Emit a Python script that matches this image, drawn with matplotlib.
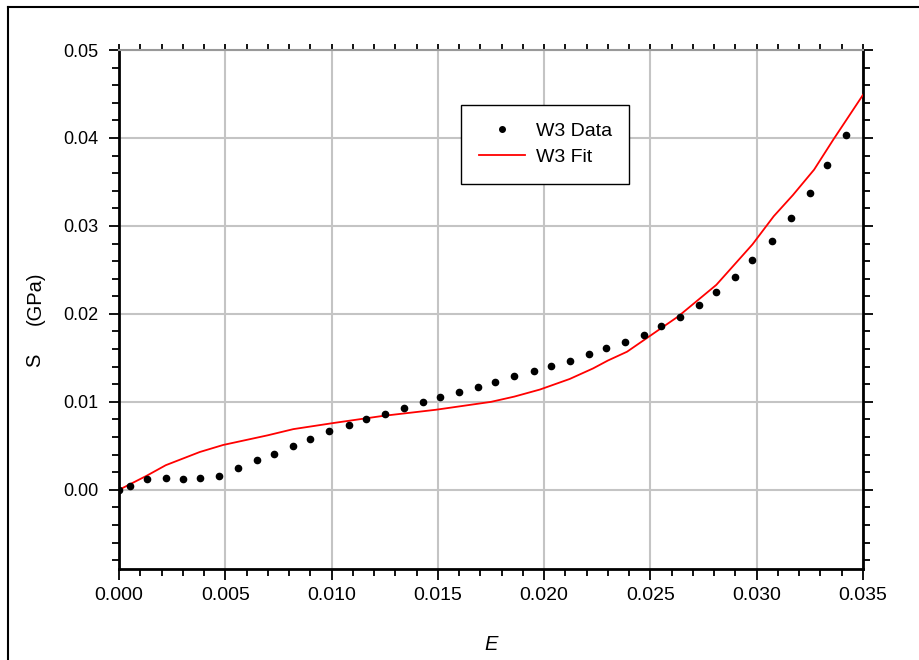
import matplotlib
matplotlib.use("Agg")
import matplotlib.pyplot as plt
from matplotlib.ticker import MultipleLocator, FormatStrFormatter
from matplotlib.lines import Line2D

plt.rcParams['font.family'] = ['Liberation Sans', 'DejaVu Sans']

# W3 data points (strain E, stress S in GPa)
data_E = [0.0000, 0.0005, 0.0013, 0.0022, 0.0030, 0.0038, 0.0047, 0.0056, 0.0065,
          0.0073, 0.0082, 0.0090, 0.0099, 0.0108, 0.0116, 0.0125, 0.0134, 0.0143,
          0.0151, 0.0160, 0.0169, 0.0177, 0.0186, 0.0195, 0.0203, 0.0212, 0.0221,
          0.0229, 0.0238, 0.0247, 0.0255, 0.0264, 0.0273, 0.0281, 0.0290, 0.0298,
          0.0307, 0.0316, 0.0325, 0.0333, 0.0342]
data_S = [0.0000, 0.0004, 0.0012, 0.0013, 0.0012, 0.0014, 0.0016, 0.0025, 0.0034,
          0.0041, 0.0050, 0.0058, 0.0067, 0.0074, 0.0080, 0.0086, 0.0093, 0.0100,
          0.0105, 0.0111, 0.0117, 0.0123, 0.0129, 0.0135, 0.0141, 0.0147, 0.0154,
          0.0161, 0.0168, 0.0176, 0.0186, 0.0197, 0.0210, 0.0225, 0.0242, 0.0261,
          0.0283, 0.0309, 0.0338, 0.0369, 0.0403]

# W3 fit curve
fit_E = [0.0000, 0.0013, 0.0022, 0.0038, 0.0049, 0.0070, 0.0082, 0.0101, 0.0124,
         0.0149, 0.0175, 0.0186, 0.0198, 0.0212, 0.0223, 0.0230, 0.0239, 0.0248,
         0.0263, 0.0281, 0.0298, 0.0308, 0.0317, 0.0327, 0.0336, 0.0350]
fit_S = [0.0000, 0.0016, 0.0028, 0.0043, 0.0051, 0.0062, 0.0069, 0.0076, 0.0084,
         0.0091, 0.0100, 0.0106, 0.0114, 0.0126, 0.0138, 0.0147, 0.0157, 0.0172,
         0.0197, 0.0233, 0.0279, 0.0311, 0.0335, 0.0364, 0.0398, 0.0449]

fig = plt.figure(figsize=(9.19, 6.60), dpi=100)
ax = fig.add_axes([119/919, 91/660, 744/919, 519/660])

grid_c = '#c4c4c4'
ax.set_xlim(0, 0.035)
ax.set_ylim(-0.009, 0.05)
ax.xaxis.set_major_locator(MultipleLocator(0.005))
ax.xaxis.set_minor_locator(MultipleLocator(0.001))
ax.yaxis.set_major_locator(MultipleLocator(0.01))
ax.yaxis.set_minor_locator(MultipleLocator(0.002))
ax.xaxis.set_major_formatter(FormatStrFormatter('%.3f'))
ax.yaxis.set_major_formatter(FormatStrFormatter('%.2f'))
ax.grid(True, which='major', color=grid_c, linewidth=1.5)
ax.set_axisbelow(True)

ax.tick_params(which='both', direction='out', top=False, right=True, colors='black')
ax.tick_params(axis='y', which='major', length=7, width=1.3, pad=8, labelsize=13)
ax.tick_params(axis='y', which='minor', length=5, width=1.3)
ax.tick_params(axis='x', which='major', length=8, width=1.3, pad=5, labelsize=14)
ax.tick_params(axis='x', which='minor', length=5, width=1.3)

# small ticks along the top edge
top = ax.secondary_xaxis('top')
top.xaxis.set_major_locator(MultipleLocator(0.001))
top.tick_params(which='both', direction='out', length=4, width=1.3, labeltop=False)
top.spines['top'].set_visible(False)

for s in ['left', 'bottom', 'right']:
    ax.spines[s].set_linewidth(2)
    ax.spines[s].set_color('black')
ax.spines['top'].set_color('#999999')
ax.spines['top'].set_linewidth(1.5)

ax.plot(fit_E, fit_S, color='#ff0000', linewidth=1.3, zorder=3)
ax.plot(data_E, data_S, linestyle='none', marker='o', markersize=4.5,
        color='black', zorder=4)

ax.set_xlabel('E', fontsize=14.5, style='italic', labelpad=22)

# y-axis label pieces
fig.text(35/919, 1 - 360/660, 'S', rotation=90, fontsize=14.5,
         ha='center', va='center')
fig.text(35/919, 1 - 298/660, '(GPa)', rotation=90, fontsize=14.5,
         ha='center', va='center')

handles = [Line2D([], [], linestyle='none', marker='o', markersize=4, color='black'),
           Line2D([], [], color='#ff0000', linewidth=1.3)]
leg = ax.legend(handles, ['W3 Data', 'W3 Fit'], loc='upper left',
                bbox_to_anchor=(342/744, 464/519), fontsize=14, fancybox=False,
                framealpha=1, edgecolor='black', borderpad=0.9,
                handlelength=2.37, handletextpad=0.57, labelspacing=0.43,
                borderaxespad=0)
leg.get_frame().set_linewidth(1)

# figure border (top and left)
fig.add_artist(Line2D([8/919, 8/919], [0, 1 - 7/660], transform=fig.transFigure,
                      color='black', linewidth=1.5))
fig.add_artist(Line2D([8/919, 1], [1 - 7/660, 1 - 7/660], transform=fig.transFigure,
                      color='black', linewidth=1.5))

fig.savefig('out.png', dpi=100)
